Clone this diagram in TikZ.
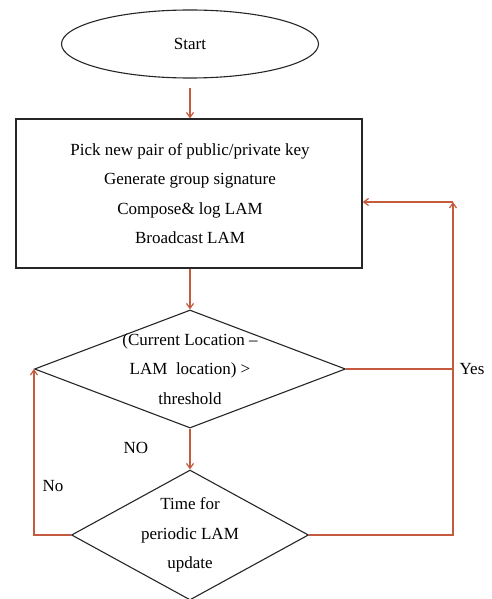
\documentclass[tikz,border=0pt]{standalone}
\usepackage{fontspec}
\setmainfont{Liberation Serif}
\usetikzlibrary{shapes.geometric,arrows.meta}
\definecolor{conn}{RGB}{196,90,62}
\begin{document}
\begin{tikzpicture}[x=1pt,y=-1pt,
  shapeline/.style={draw=black!85, line width=1.1pt},
  txt/.style={font=\fontsize{17}{29.5}\selectfont, align=center, inner sep=0pt},
  conn/.style={draw=conn, line width=1.2pt, -{Straight Barb[length=5pt,width=7pt]}},
  connline/.style={draw=conn, line width=1.2pt},
  lbl/.style={font=\fontsize{17}{20}\selectfont, inner sep=0pt}]
\useasboundingbox (0,0) rectangle (492,599);
\node[shapeline, ellipse, minimum width=257pt, minimum height=68pt, inner sep=0pt] (start) at (190,44) {};
\node[txt] at (start) {Start};
\node[shapeline, rectangle, minimum width=346pt, minimum height=149pt, inner sep=0pt] (box) at (189,193.5) {};
\node[txt] at (190,193.5) {Pick new pair of public/private key\\Generate group signature\\Compose\& log LAM\\Broadcast LAM};
\node[shapeline, diamond, minimum width=311pt, minimum height=118pt, inner sep=0pt] (d1) at (190,369) {};
\node[txt] at (d1) {(Current Location --\\LAM\ \ location) >\\threshold};
\node[shapeline, diamond, minimum width=237pt, minimum height=130pt, inner sep=0pt] (d2) at (190,535) {};
\node[txt] at (d2) {Time for\\periodic LAM\\update};
\coordinate (rt) at (453,202);
\node[lbl] (yes) at (472,369) {Yes};
\node[lbl] (no1) at (136,448) {NO};
\node[lbl] (no2) at (53,486) {No};
\draw[conn, shorten <=9pt] (start.south) -- (start.south |- box.north);
\draw[conn] (d1.north |- box.south) -- (d1.north);
\draw[conn] (d1.south) -- (d2.north);
\draw[conn] (d2.west) -| (d1.west);
\draw[connline] (d1.east) -- (d1.east -| rt);
\draw[conn] (d2.east) -| (rt);
\draw[conn] (rt) -- (box.east |- rt);
\end{tikzpicture}
\end{document}
